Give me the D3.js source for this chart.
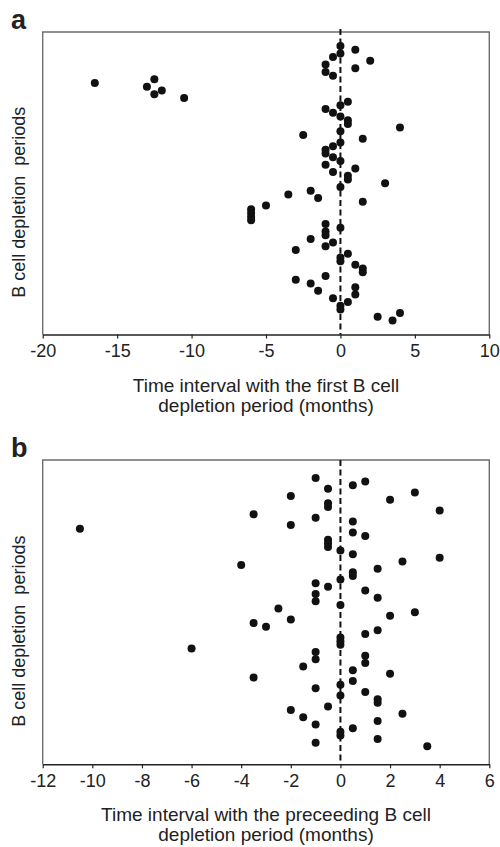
<!DOCTYPE html>
<html>
<head>
<meta charset="utf-8">
<script src="https://cdn.jsdelivr.net/npm/d3@7/dist/d3.min.js"></script>
<style>
  html, body { margin: 0; padding: 0; background: #fff; }
  svg { display: block; }
  text { font-family: "Liberation Sans", Arial, Helvetica, sans-serif; fill: #222; }
</style>
</head>
<body>
<svg id="chart" width="500" height="847"></svg>
<script>
// ---- Data ----
// Panel a: time interval with the first B cell depletion period (months), one value per period, top to bottom
const intervalsFirst = [0, 1, 0, -0.5, 2, -1, 1, -1, -0.5, -12.5,
  -16.5, -13, -12, -12.5, -10.5, 0.5, 0, -1, -0.5, 0,
  0.5, 0.5, 4, 0, -2.5, 1.5, 0, -0.5, -1, -1,
  -0.5, 0, -1, 1, -0.5, 0.5, 0.5, 3, 0, -2,
  -3.5, -1.5, 1.5, -5, -6, -6, -6, -6, -1, 0,
  -1, -1, -2, -0.5, -1, -3, 0.5, 0, 0, 1,
  1.5, 1.5, -1, -3, -2, 1, -1.5, 1, -0.5, 0.5,
  0, 0, 4, 2.5, 3.5];
// Panel b: time interval with the preceding B cell depletion period (months)
const intervalsPreceding = [-1, 1, 0.5, -0.5, 3, -2, 2, -0.5, -0.5, 4,
  -3.5, -1, 0.5, -2, -10.5, 0.5, 1, -0.5, -0.5, -0.5,
  0, 0.5, 4, 2.5, -4, 1.5, 0.5, 0.5, 0, -1,
  -0.5, 1, -1, 1.5, -1, 0, -2.5, 3, 2, -2,
  -3.5, -3, 1.5, 1, 0, 0, 0, -6, -1, 1,
  -1, 1, -1.5, 0.5, 2, -3.5, 0.5, 0, -1, 1,
  0, 1.5, 1.5, -0.5, -2, 2.5, -1.5, 1.5, -1, 0.5,
  0, 0, 1.5, -1, 3.5];
const ticksA = [-20, -15, -10, -5, 0, 5, 10];
const ticksB = [-12, -10, -8, -6, -4, -2, 0, 2, 4, 6];
const panelLabels = ["a", "b"];
const xTitlesA = ["Time interval with the first B cell", "depletion period (months)"];
const xTitlesB = ["Time interval with the preceeding B cell", "depletion period (months)"];
const yTitle = "B cell depletion  periods";

// ---- Drawing ----
const svg = d3.select("#chart");
const left = 42.7, right = 489.3;

function panel(cfg) {
  const g = svg.append("g");
  const x = d3.scaleLinear().domain(cfg.domain).range([left, right]);
  const y = d3.scalePoint().domain(d3.range(cfg.values.length))
    .range([cfg.top, cfg.bottom]).padding(cfg.pad);

  // frame (left, top, right in gray)
  g.append("path")
    .attr("d", `M${left},${cfg.bottom} V${cfg.top} H${right} V${cfg.bottom}`)
    .attr("fill", "none").attr("stroke", "#6e6e6e").attr("stroke-width", 1.4);

  // x axis
  const ax = g.append("g").attr("transform", `translate(0,${cfg.bottom})`)
    .call(d3.axisBottom(x).tickValues(cfg.ticks).tickFormat(d => String(d))
      .tickSize(4).tickSizeOuter(0).tickPadding(6));
  ax.select(".domain").attr("stroke", "#222").attr("stroke-width", 1.4);
  ax.selectAll(".tick line").attr("stroke", "#222").attr("stroke-width", 1.2);
  ax.selectAll(".tick text")
    .attr("font-family", '"Liberation Sans", Arial, sans-serif')
    .attr("font-size", 18).attr("fill", "#222");

  // dashed zero line
  g.append("line")
    .attr("x1", x(0)).attr("x2", x(0))
    .attr("y1", cfg.top - cfg.dashOver).attr("y2", cfg.bottom)
    .attr("stroke", "#111").attr("stroke-width", 2)
    .attr("stroke-dasharray", "6,3.5");

  // dots
  g.selectAll("circle.dot").data(cfg.values).enter().append("circle")
    .attr("class", "dot")
    .attr("cx", d => x(d))
    .attr("cy", (d, i) => y(i))
    .attr("r", 4)
    .attr("fill", "#111");

  // panel letter
  g.append("text").attr("x", 11).attr("y", cfg.letterY)
    .attr("font-size", 27).attr("font-weight", "bold").attr("fill", "#111")
    .text(cfg.letter);

  // x title
  const cx = (left + right) / 2;
  cfg.xTitle.forEach((t, i) => {
    g.append("text").attr("x", cx).attr("y", cfg.bottom + 57 + i * 20)
      .attr("text-anchor", "middle").attr("font-size", 19).text(t);
  });

  // y title
  g.append("text")
    .attr("transform", `translate(25,${(cfg.top + cfg.bottom) / 2 + cfg.yShift}) rotate(-90)`)
    .attr("text-anchor", "middle").attr("font-size", 18)
    .style("white-space", "pre")
    .text(yTitle);
}

panel({ values: intervalsFirst, domain: [-20, 10], ticks: ticksA,
  top: 32, bottom: 334.5, pad: 3.77, letter: panelLabels[0], letterY: 28.5,
  xTitle: xTitlesA, yShift: 19, dashOver: 3 });
panel({ values: intervalsPreceding, domain: [-12, 6], ticks: ticksB,
  top: 460, bottom: 764.3, pad: 4.96, letter: panelLabels[1], letterY: 456.5,
  xTitle: xTitlesB, yShift: 19, dashOver: 0 });
</script>
</body>
</html>
